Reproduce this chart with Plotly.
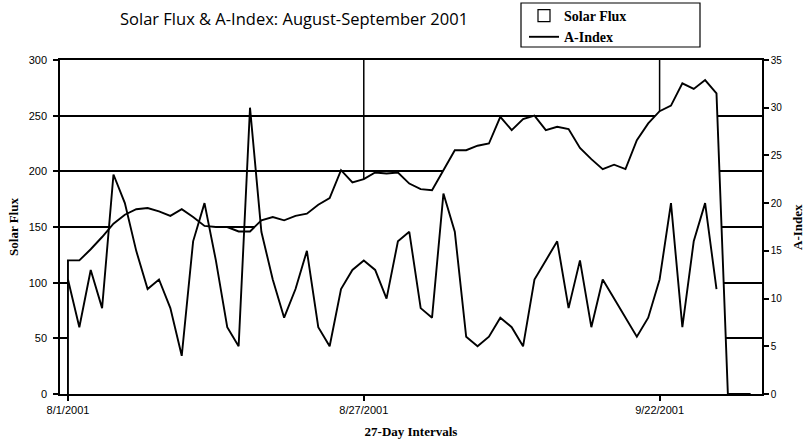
import plotly.graph_objects as go
import pandas as pd

# Categories: daily dates 8/1/2001 .. 9/30/2001
dates = [f"{d.month}/{d.day}/{d.year}" for d in pd.date_range("2001-08-01", "2001-09-30", freq="D")]
tick_labels = ["8/1/2001", "8/27/2001", "9/22/2001"]

solar_flux = [120, 120, 130, 141, 153, 161, 166, 167, 164, 160,
              166, 159, 151, 150, 150, 146, 146, 156, 159, 156,
              160, 162, 170, 176, 201, 190, 193, 199, 198, 199,
              189, 184, 183, 201, 219, 219, 223, 225, 249, 237,
              247, 250, 237, 240, 238, 221, 211, 202, 206, 202,
              228, 243, 254, 259, 279, 274, 282, 270, 0, 0, 0]

a_index = [12, 7, 13, 9, 23, 20, 15, 11, 12, 9,
           4, 16, 20, 14, 7, 5, 30, 17, 12, 8,
           11, 15, 7, 5, 11, 13, 14, 13, 10, 16,
           17, 9, 8, 21, 17, 6, 5, 6, 8, 7,
           5, 12, 14, 16, 9, 14, 7, 12, 10, 8,
           6, 8, 12, 20, 7, 16, 20, 11, None, None, None]

xs = list(range(len(dates)))
tick_pos = [dates.index(t) for t in tick_labels]

serif = "Liberation Serif"
sans = "Liberation Sans"

W, H = 804, 446
ML, MR, MT, MB = 60, 42, 60, 52
PW, PH = W - ML - MR, H - MT - MB


def px_x(v):
    return (v - ML) / PW


def px_y(v):
    return (H - MB - v) / PH


fig = go.Figure()

# Solar flux: white-filled area with black outline (covers gridlines)
fig.add_trace(go.Scatter(
    x=[xs[0]] + xs, y=[0] + solar_flux,
    mode="lines", fill="tozeroy", fillcolor="white",
    line=dict(color="black", width=1.9),
    name="Solar Flux", yaxis="y", showlegend=False))

fig.add_trace(go.Scatter(
    x=xs, y=a_index, mode="lines",
    line=dict(color="black", width=1.9),
    name="A-Index", yaxis="y2", connectgaps=False, legendrank=2))

# legend entry for the area series: outlined rectangle icon (degenerate shape under the axis)
fig.add_shape(type="rect", xref="x", yref="y", x0=xs[0], x1=xs[0], y0=0, y1=0,
              fillcolor="white", line=dict(color="black", width=1.2),
              layer="below", showlegend=True, name="Solar Flux", legendrank=1)

# vertical gridlines at the interval tick dates (behind the area)
for p in tick_pos[1:]:
    fig.add_shape(type="line", xref="x", yref="paper", x0=p, x1=p, y0=0, y1=1,
                  line=dict(color="black", width=1.5), layer="below")

# legend frame
fig.add_shape(type="rect", xref="paper", yref="paper",
              x0=px_x(521), x1=px_x(700), y0=px_y(47), y1=px_y(3),
              line=dict(color="black", width=1.2), fillcolor="rgba(0,0,0,0)", layer="above")

fig.update_layout(
    width=W, height=H,
    margin=dict(l=ML, r=MR, t=MT, b=MB, autoexpand=False),
    paper_bgcolor="white", plot_bgcolor="white",
    title=dict(text="Solar Flux & A-Index: August-September 2001",
               x=120 / W, xanchor="left", y=1 - 19 / H, yanchor="middle",
               font=dict(family="Open Sans", size=16.5, color="black")),
    showlegend=True,
    legend=dict(xref="container", yref="container",
                x=524 / W, xanchor="left", y=1, yanchor="top",
                bgcolor="rgba(0,0,0,0)", borderwidth=0,
                font=dict(family=serif, size=14, color="black", weight="bold"),
                tracegroupgap=0, itemwidth=30),
    annotations=[dict(text="A-Index", xref="paper", yref="paper", x=px_x(797), y=0.5,
                      textangle=-90, showarrow=False, xanchor="center", yanchor="middle",
                      font=dict(family=serif, size=13, color="black", weight="bold"))],
    xaxis=dict(range=[-0.7, 61.0], tickvals=tick_pos, ticktext=tick_labels,
               showgrid=False, zeroline=False, showline=True, mirror=True,
               linecolor="black", linewidth=1.5,
               ticks="outside", ticklen=5, tickcolor="black", tickwidth=1.5,
               tickfont=dict(family=sans, size=11, color="black"),
               title=dict(text="27-Day Intervals", standoff=12,
                          font=dict(family=serif, size=13, color="black", weight="bold"))),
    yaxis=dict(range=[0, 300], dtick=50, showgrid=True, gridcolor="black", gridwidth=1.5,
               zeroline=False, showline=True, linecolor="black", linewidth=1.5,
               ticks="outside", ticklen=5, tickcolor="black", tickwidth=1.5,
               ticklabelstandoff=4,
               tickfont=dict(family=sans, size=11, color="black"),
               title=dict(text="Solar Flux", standoff=7,
                          font=dict(family=serif, size=13, color="black", weight="bold"))),
    yaxis2=dict(range=[0, 35], dtick=5, overlaying="y", side="right", showgrid=False,
                zeroline=False, showline=True, linecolor="black", linewidth=1.5,
                ticks="outside", ticklen=5, tickcolor="black", tickwidth=1.5,
                tickfont=dict(family=sans, size=10, color="black")),
)

fig.write_html("out.html", config={"displayModeBar": False},
               post_script="document.body.style.margin='0';")
